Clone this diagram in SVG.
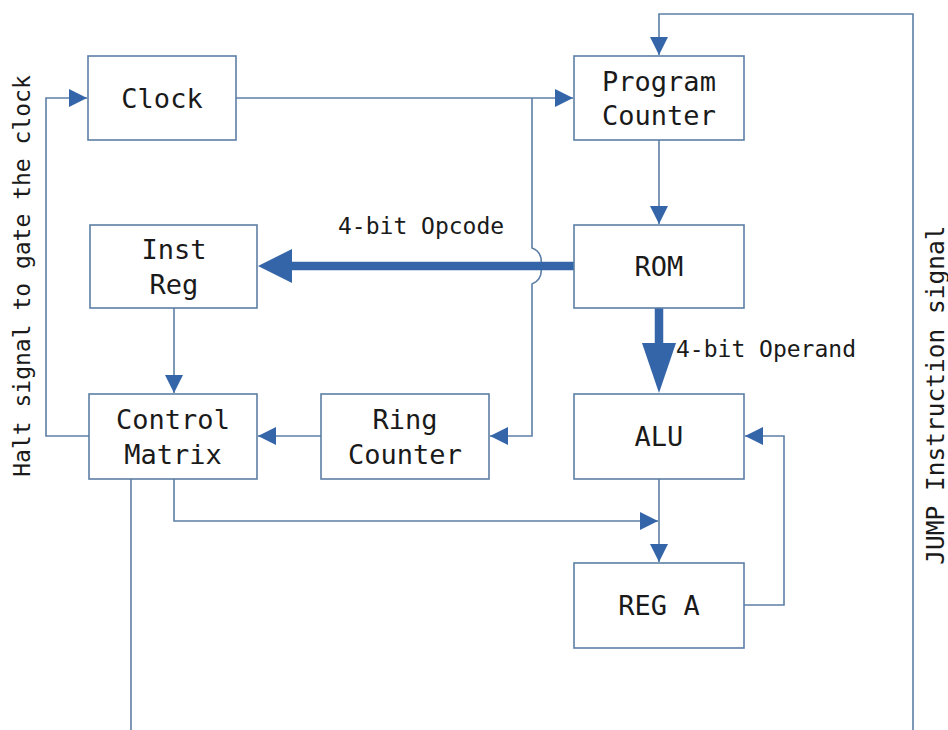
<svg xmlns="http://www.w3.org/2000/svg" width="948" height="730" viewBox="0 0 948 730">
  <style>
    .box { fill: #ffffff; stroke: #5d7fa6; stroke-width: 1.6; }
    .lbl { font-family: "DejaVu Sans Mono", "Liberation Mono", monospace; font-size: 27px; fill: #1a1a1a; text-anchor: middle; dominant-baseline: central; }
    .note { font-family: "DejaVu Sans Mono", "Liberation Mono", monospace; font-size: 23px; fill: #1a1a1a; dominant-baseline: central; }
    .wire { fill: none; stroke: #5d7fa6; stroke-width: 1.6; }
    .bus { fill: none; stroke: #3465a8; stroke-width: 8.5; }
    .head { fill: #3465a8; }
  </style>
  <defs>
    <marker id="arr" viewBox="0 0 10 10" refX="10" refY="5" markerWidth="18" markerHeight="18" markerUnits="userSpaceOnUse" orient="auto">
      <path d="M0,0 L10,5 L0,10 Z" class="head"/>
    </marker>
  </defs>
  <rect width="948" height="730" fill="#ffffff"/>

  <g id="connectors">
    <!-- clock to program counter -->
    <path class="wire" d="M236,98 H573" marker-end="url(#arr)"/>
    <!-- clock branch to ring counter, hopping over the opcode bus -->
    <path class="wire" d="M532,98 V248 Q543,252 541,266 Q543,280 532,284 V436 H490" marker-end="url(#arr)"/>
    <!-- program counter to ROM -->
    <path class="wire" d="M659,140 V224" marker-end="url(#arr)"/>
    <!-- opcode bus -->
    <path class="bus" d="M574,266 H292"/>
    <path class="head" d="M292,249 L258,266 L292,283 Z"/>
    <!-- operand bus -->
    <path class="bus" d="M659,308 V344"/>
    <path class="head" d="M642,343 L659,393 L676,343 Z"/>
    <!-- inst reg to control matrix -->
    <path class="wire" d="M174,308 V393" marker-end="url(#arr)"/>
    <!-- ring counter to control matrix -->
    <path class="wire" d="M321,436 H258" marker-end="url(#arr)"/>
    <!-- halt signal back to clock -->
    <path class="wire" d="M89,436 H46 V98 H87" marker-end="url(#arr)"/>
    <!-- control matrix to reg A path -->
    <path class="wire" d="M174,479 V521 H658" marker-end="url(#arr)"/>
    <!-- ALU to REG A -->
    <path class="wire" d="M659,479 V562" marker-end="url(#arr)"/>
    <!-- REG A feedback to ALU -->
    <path class="wire" d="M744,605 H784 V436 H745" marker-end="url(#arr)"/>
    <!-- control matrix output leaving downward -->
    <path class="wire" d="M131,479 V730"/>
    <!-- jump instruction signal -->
    <path class="wire" d="M913,730 V14 H659 V55" marker-end="url(#arr)"/>
  </g>

  <text class="note" x="338" y="226">4-bit Opcode</text>
  <text class="note" x="676" y="349">4-bit Operand</text>
  <text class="note" x="22" y="276" text-anchor="middle" transform="rotate(-90 22 276)">Halt signal to gate the clock</text>
  <text class="note" x="935" y="395" text-anchor="middle" style="font-size:24.5px" transform="rotate(-90 935 395)">JUMP Instruction signal</text>

  <g id="clock">
    <rect class="box" x="88" y="56" width="148" height="84"/>
    <text class="lbl" x="162" y="98">Clock</text>
  </g>
  <g id="program-counter">
    <rect class="box" x="574" y="56" width="170" height="84"/>
    <text class="lbl" x="659" y="81">Program</text>
    <text class="lbl" x="659" y="115">Counter</text>
  </g>
  <g id="inst-reg">
    <rect class="box" x="90" y="225" width="167" height="83"/>
    <text class="lbl" x="174" y="249">Inst</text>
    <text class="lbl" x="174" y="284">Reg</text>
  </g>
  <g id="rom">
    <rect class="box" x="574" y="225" width="170" height="83"/>
    <text class="lbl" x="659" y="266">ROM</text>
  </g>
  <g id="control-matrix">
    <rect class="box" x="89" y="394" width="168" height="85"/>
    <text class="lbl" x="173" y="419">Control</text>
    <text class="lbl" x="173" y="454">Matrix</text>
  </g>
  <g id="ring-counter">
    <rect class="box" x="321" y="394" width="168" height="85"/>
    <text class="lbl" x="405" y="419">Ring</text>
    <text class="lbl" x="405" y="454">Counter</text>
  </g>
  <g id="alu">
    <rect class="box" x="574" y="394" width="170" height="85"/>
    <text class="lbl" x="659" y="436">ALU</text>
  </g>
  <g id="reg-a">
    <rect class="box" x="574" y="563" width="170" height="85"/>
    <text class="lbl" x="659" y="605">REG A</text>
  </g>
</svg>
